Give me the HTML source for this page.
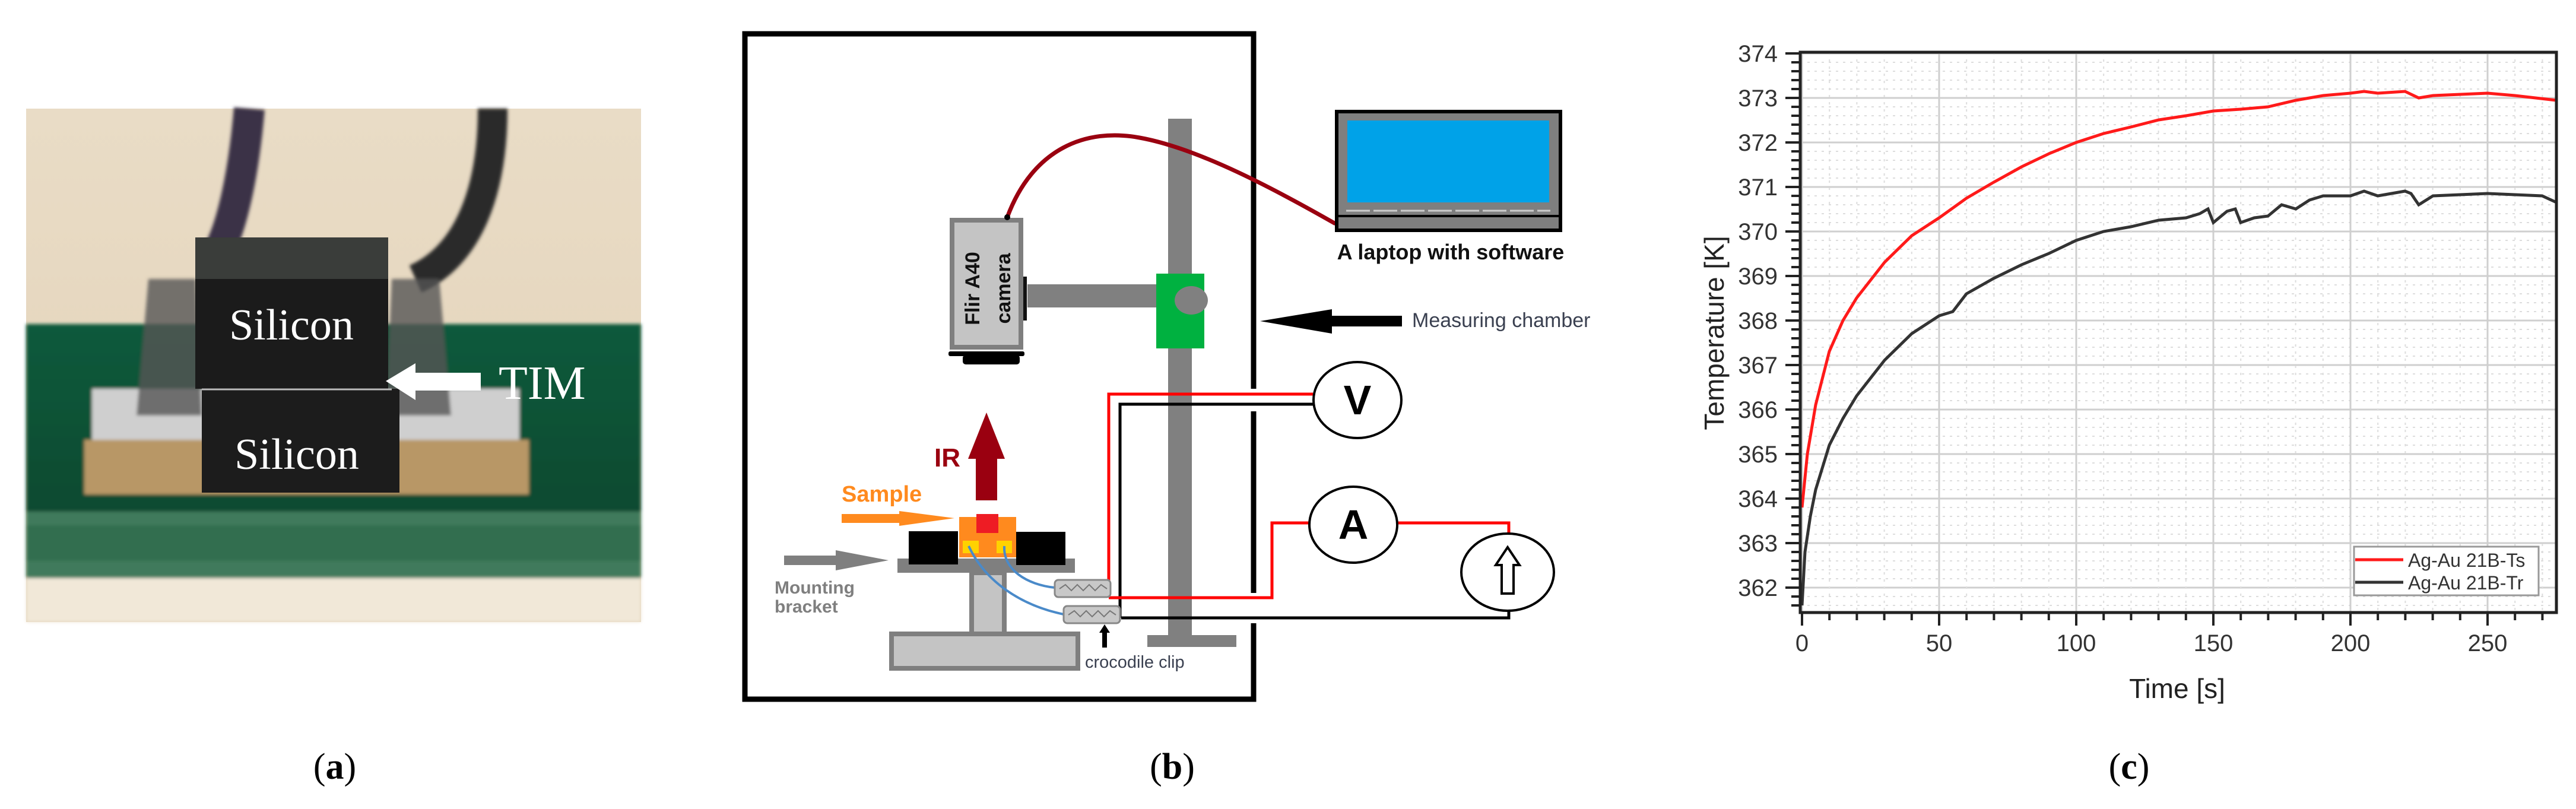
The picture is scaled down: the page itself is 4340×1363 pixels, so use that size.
<!DOCTYPE html>
<html><head><meta charset="utf-8"><style>
html,body{margin:0;padding:0;background:#fff;}
svg{display:block;}
text{font-family:"Liberation Sans",sans-serif;}
.ser{font-family:"Liberation Serif",serif;}
</style></head><body>
<svg id="s" width="4340" height="1363" viewBox="0 0 4340 1363" xmlns="http://www.w3.org/2000/svg">
<defs>
<linearGradient id="bg" x1="0" y1="0" x2="0" y2="1"><stop offset="0" stop-color="#e9dcc6"/><stop offset="1" stop-color="#e3d2b8"/></linearGradient>
<linearGradient id="gb" x1="0" y1="0" x2="0" y2="1"><stop offset="0" stop-color="#0f5a3c"/><stop offset="1" stop-color="#0c4a30"/></linearGradient>
<filter id="bl"><feGaussianBlur stdDeviation="3"/></filter>
</defs>
<!-- Panel a -->
<g>
<rect x="44" y="183" width="1036" height="865" fill="url(#bg)"/>
<g filter="url(#bl)">
<path d="M420,183 C410,300 390,380 370,420" stroke="#3b3346" stroke-width="52" fill="none"/>
<path d="M830,183 C830,320 790,430 700,470" stroke="#2a2a2a" stroke-width="50" fill="none"/>
<rect x="44" y="546" width="1036" height="320" fill="url(#gb)"/>
<rect x="44" y="862" width="1036" height="112" fill="#3f7a5c"/>
<rect x="44" y="885" width="1036" height="60" fill="#2f6a4c" opacity="0.7"/>
<rect x="44" y="974" width="1036" height="74" fill="#f1e8d8"/>
<rect x="142" y="741" width="749" height="92" fill="#b89766"/>
<rect x="155" y="655" width="720" height="86" fill="#cfcfcf"/>
<path d="M250,470 L330,470 L340,700 L230,700 Z" fill="#555" opacity="0.8"/>
<path d="M660,470 L740,470 L760,700 L650,700 Z" fill="#555" opacity="0.8"/>
</g>
<rect x="329" y="400" width="325" height="255" fill="#1b1b1b"/>
<rect x="329" y="400" width="325" height="70" fill="#3a3d3a"/>
<rect x="340" y="655" width="333" height="175" fill="#1c1c1c"/>
<line x1="340" y1="656" x2="660" y2="656" stroke="#bbb" stroke-width="3"/>
<text x="491" y="572" class="ser" font-size="74" fill="#fff" text-anchor="middle" style="font-family:'Liberation Serif',serif">Silicon</text>
<text x="500" y="790" class="ser" font-size="74" fill="#fff" text-anchor="middle" style="font-family:'Liberation Serif',serif">Silicon</text>
<polygon points="650,642 700,612 700,628 810,628 810,658 700,658 700,674" fill="#fff"/>
<text x="840" y="672" font-size="80" fill="#fff" style="font-family:'Liberation Serif',serif">TIM</text>
</g>
<text x="564" y="1312" font-size="62" text-anchor="middle" style="font-family:'Liberation Serif',serif">(<tspan font-weight="bold">a</tspan>)</text>

<!-- Panel b -->
<path d="M2112,655 L2112,57 L1255,57 L1255,1178 L2112,1178 L2112,1050 M2112,693 L2112,999" stroke="#000" stroke-width="9" fill="none"/>
<!-- pillar -->
<rect x="1968" y="200" width="40" height="885" fill="#808080"/>
<rect x="1933" y="1070" width="150" height="20" fill="#808080"/>
<rect x="1731" y="479" width="220" height="39" fill="#808080"/>
<rect x="1948" y="461" width="81" height="126" fill="#00b140"/>
<ellipse cx="2007" cy="506" rx="28" ry="24" fill="#808080"/>
<!-- camera -->
<rect x="1604" y="371" width="116" height="214" fill="#c4c4c4" stroke="#7f7f7f" stroke-width="8"/>
<rect x="1724" y="466" width="6" height="74" fill="#111"/>
<rect x="1598" y="592" width="128" height="8" rx="3" fill="#000"/>
<rect x="1622" y="598" width="96" height="16" rx="5" fill="#000"/>
<text transform="translate(1650,486) rotate(-90)" font-size="34" font-weight="bold" text-anchor="middle" fill="#111">Flir A40</text>
<text transform="translate(1702,486) rotate(-90)" font-size="34" font-weight="bold" text-anchor="middle" fill="#111">camera</text>
<path d="M1697,366 C1740,250 1830,215 1920,232 C2020,250 2150,320 2250,377" stroke="#9a0010" stroke-width="7" fill="none"/>
<circle cx="1697" cy="366" r="5" fill="#000"/>
<!-- laptop -->
<rect x="2252" y="188" width="377" height="200" fill="#7f7f7f" stroke="#000" stroke-width="6"/>
<rect x="2270" y="203" width="340" height="138" fill="#00a2e8"/>
<line x1="2268" y1="355" x2="2612" y2="355" stroke="#ccc" stroke-width="3" stroke-dasharray="40,6"/>
<line x1="2252" y1="364" x2="2629" y2="364" stroke="#000" stroke-width="4"/>
<text x="2444" y="437" font-size="36" font-weight="bold" text-anchor="middle" fill="#111">A laptop with software</text>
<!-- measuring chamber arrow -->
<polygon points="2123,541 2244,521 2244,532 2362,532 2362,550 2244,550 2244,562" fill="#000"/>
<text x="2379" y="551" font-size="34" fill="#3a4050">Measuring chamber</text>
<!-- wires -->
<polyline points="1868,1007 1868,664 2212,664" stroke="#ff0000" stroke-width="5" fill="none"/>
<polyline points="1887,1041 1887,681 2212,681" stroke="#000" stroke-width="5" fill="none"/>
<polyline points="1868,1007 2143,1007 2143,881 2206,881" stroke="#ff0000" stroke-width="5" fill="none"/>
<polyline points="2354,881 2542,881 2542,898" stroke="#ff0000" stroke-width="5" fill="none"/>
<polyline points="1889,1041 2542,1041 2542,1028" stroke="#000" stroke-width="5" fill="none"/>
<ellipse cx="2287" cy="674" rx="74" ry="64" fill="#fff" stroke="#000" stroke-width="4"/>
<text x="2287" y="698" font-size="70" font-weight="bold" text-anchor="middle">V</text>
<ellipse cx="2280" cy="884" rx="74" ry="64" fill="#fff" stroke="#000" stroke-width="4"/>
<text x="2280" y="908" font-size="70" font-weight="bold" text-anchor="middle">A</text>
<ellipse cx="2540" cy="964" rx="78" ry="65" fill="#fff" stroke="#000" stroke-width="4"/>
<polygon points="2540,922 2560,952 2550,952 2550,1000 2530,1000 2530,952 2520,952" fill="#fff" stroke="#000" stroke-width="4"/>
<!-- stage -->
<rect x="1502" y="1068" width="314" height="58" fill="#c4c4c4" stroke="#7f7f7f" stroke-width="8"/>
<rect x="1637" y="965" width="55" height="103" fill="#c4c4c4" stroke="#7f7f7f" stroke-width="8"/>
<rect x="1512" y="941" width="299" height="24" fill="#7f7f7f"/>
<rect x="1531" y="895" width="83" height="56" fill="#000"/>
<rect x="1712" y="896" width="83" height="56" fill="#000"/>
<rect x="1616" y="871" width="96" height="68" fill="#ff8a1e"/>
<rect x="1645" y="866" width="37" height="32" fill="#ee1c24"/>
<rect x="1622" y="911" width="27" height="21" fill="#ffd200"/>
<rect x="1679" y="911" width="26" height="21" fill="#ffd200"/>
<path d="M1632,920 C1660,980 1720,1020 1792,1035" stroke="#4a8ac9" stroke-width="4" fill="none"/>
<path d="M1692,920 C1690,960 1730,985 1777,990" stroke="#4a8ac9" stroke-width="4" fill="none"/>
<rect x="1777" y="977" width="94" height="29" rx="6" fill="#c8c8c8" stroke="#888" stroke-width="3"/>
<polyline points="1785,992 1795,985 1805,995 1815,985 1825,995 1835,985 1845,995 1855,985 1865,992" stroke="#777" stroke-width="2" fill="none"/>
<rect x="1792" y="1021" width="95" height="29" rx="6" fill="#c8c8c8" stroke="#888" stroke-width="3"/>
<polyline points="1800,1036 1810,1029 1820,1039 1830,1029 1840,1039 1850,1029 1860,1039 1870,1029 1880,1036" stroke="#777" stroke-width="2" fill="none"/>
<polygon points="1861,1052 1870,1066 1865,1066 1865,1091 1857,1091 1857,1066 1852,1066" fill="#000"/>
<text x="1828" y="1125" font-size="29" fill="#3a4050">crocodile clip</text>
<!-- arrows -->
<polygon points="1662,695 1693,773 1680,773 1680,843 1644,843 1644,773 1631,773" fill="#9a0010"/>
<text x="1574" y="786" font-size="44" font-weight="bold" fill="#9a0010">IR</text>
<text x="1418" y="845" font-size="38" font-weight="bold" fill="#ff8a1e">Sample</text>
<polygon points="1418,866 1515,866 1515,861 1608,873 1515,886 1515,881 1418,881" fill="#ff8a1e"/>
<polygon points="1321,936 1408,936 1408,927 1497,944 1408,961 1408,952 1321,952" fill="#7f7f7f"/>
<text x="1305" y="1000" font-size="30" font-weight="bold" fill="#7f7f7f">Mounting</text>
<text x="1305" y="1032" font-size="30" font-weight="bold" fill="#7f7f7f">bracket</text>
<text x="1975" y="1312" font-size="62" text-anchor="middle" style="font-family:'Liberation Serif',serif">(<tspan font-weight="bold">b</tspan>)</text>

<!-- Panel c -->
<g id="grid"></g>
<polyline fill="none" stroke="#ff1a1a" stroke-width="5" points="3036,855 3045,765 3059,682 3082,592 3105,540 3128,502 3175,442 3221,397 3267,367 3313,334 3359,307 3406,281 3452,259 3498,240 3544,225 3590,214 3637,202 3683,195 3729,187 3775,184 3821,180 3868,169 3914,161 3960,157 3983,154 4006,157 4052,154 4075,165 4099,161 4191,157 4237,161 4307,169"/>
<polyline fill="none" stroke="#333" stroke-width="5" points="3036,1020 3041,930 3050,870 3059,825 3082,750 3105,705 3128,667 3175,607 3221,562 3267,532 3290,525 3313,495 3359,469 3406,446 3452,427 3498,405 3544,390 3590,382 3637,371 3683,367 3706,360 3720,352 3729,375 3752,356 3766,352 3775,375 3798,367 3821,364 3844,345 3868,352 3891,337 3914,330 3960,330 3983,322 4006,330 4052,322 4062,326 4075,345 4099,330 4191,326 4283,330 4307,341"/>
<rect x="3033" y="88" width="1274" height="944" fill="none" stroke="#222" stroke-width="5"/>
<rect x="3966" y="921" width="311" height="82" fill="#fff" stroke="#999" stroke-width="3"/>
<line x1="3968" y1="943" x2="4049" y2="943" stroke="#ff1a1a" stroke-width="5"/>
<line x1="3968" y1="981" x2="4049" y2="981" stroke="#333" stroke-width="5"/>
<text x="4057" y="955" font-size="32" fill="#333">Ag-Au 21B-Ts</text>
<text x="4057" y="993" font-size="32" fill="#333">Ag-Au 21B-Tr</text>
<g font-size="40" fill="#333" text-anchor="end">
<text x="2995" y="104">374</text><text x="2995" y="179">373</text><text x="2995" y="254">372</text><text x="2995" y="329">371</text><text x="2995" y="404">370</text><text x="2995" y="479">369</text><text x="2995" y="554">368</text><text x="2995" y="629">367</text><text x="2995" y="704">366</text><text x="2995" y="779">365</text><text x="2995" y="854">364</text><text x="2995" y="929">363</text><text x="2995" y="1004">362</text>
</g>
<g font-size="40" fill="#333" text-anchor="middle">
<text x="3036" y="1097">0</text><text x="3267" y="1097">50</text><text x="3498" y="1097">100</text><text x="3729" y="1097">150</text><text x="3960" y="1097">200</text><text x="4191" y="1097">250</text>
</g>
<text x="3668" y="1176" font-size="46" fill="#222" text-anchor="middle">Time [s]</text>
<text transform="translate(2904,561) rotate(-90)" font-size="46" fill="#222" text-anchor="middle">Temperature [K]</text>
<text x="3587" y="1312" font-size="62" text-anchor="middle" style="font-family:'Liberation Serif',serif">(<tspan font-weight="bold">c</tspan>)</text>
</svg>
<script>
(function(){
var g=document.getElementById('grid'),ns='http://www.w3.org/2000/svg',h='';
for(var k=0;k<=12;k++){var y=90+75*k;h+='<line x1="3033" x2="4307" y1="'+y+'" y2="'+y+'" stroke="#cfcfcf" stroke-width="3"/>';
 h+='<line x1="3008" x2="3033" y1="'+y+'" y2="'+y+'" stroke="#222" stroke-width="4"/>';
 for(var m=1;m<5;m++){var yy=y+15*m;if(yy<1032){h+='<line x1="3033" x2="4307" y1="'+yy+'" y2="'+yy+'" stroke="#ddd" stroke-width="2" stroke-dasharray="4,8"/>';h+='<line x1="3018" x2="3033" y1="'+yy+'" y2="'+yy+'" stroke="#222" stroke-width="4"/>';}}}
for(var t=0;t<=275;t+=10){var x=3036+t*4.62;var maj=(t%50==0);
 h+='<line y1="88" y2="1032" x1="'+x+'" x2="'+x+'" stroke="'+(maj?'#cfcfcf':'#ddd')+'" stroke-width="'+(maj?3:2)+'"'+(maj?'':' stroke-dasharray="4,8"')+'/>';
 h+='<line y1="1032" y2="'+(maj?1054:1045)+'" x1="'+x+'" x2="'+x+'" stroke="#222" stroke-width="4"/>';}
g.innerHTML=h;})();
</script>
</body></html>
